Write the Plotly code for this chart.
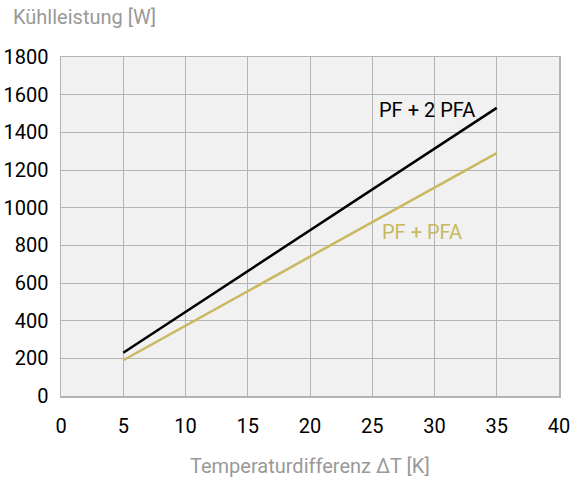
import plotly.graph_objects as go

x_vals = [5, 35]
pf_2pfa = [230, 1530]
pf_pfa = [190, 1290]
x_ticks = [0, 5, 10, 15, 20, 25, 30, 35, 40]
y_ticks = [0, 200, 400, 600, 800, 1000, 1200, 1400, 1600, 1800]

FONT = "Roboto"
GRID = "#b4b4b4"

W, H = 573, 482
ML, MR, MT = 61, 14, 57
MB = H - MT - 339.5

fig = go.Figure()
fig.add_trace(go.Scatter(x=x_vals, y=pf_2pfa, mode="lines",
                         line=dict(color="#000000", width=2.5), name="PF + 2 PFA"))
fig.add_trace(go.Scatter(x=x_vals, y=pf_pfa, mode="lines",
                         line=dict(color="#c9b85e", width=2.5), name="PF + PFA"))

fig.add_annotation(x=29.36, y=1519, text="PF + 2 PFA", showarrow=False,
                   font=dict(family=FONT, size=20, color="#000000"))
fig.add_annotation(x=29, y=870, text="PF + PFA", showarrow=False,
                   font=dict(family=FONT, size=20, color="#c9b85e"))

fig.add_annotation(x=0, y=1, xref="paper", yref="paper", xshift=-50, yshift=57 - 17,
                   xanchor="left", yanchor="middle",
                   text="Kühlleistung [W]", showarrow=False,
                   font=dict(family=FONT, size=20, color="#999999"))
fig.add_annotation(x=0.5, y=0, xref="paper", yref="paper", yshift=-(466 - 396.5),
                   xanchor="center", yanchor="middle",
                   text="Temperaturdifferenz ΔT [K]", showarrow=False,
                   font=dict(family=FONT, size=20, color="#999999"))

fig.update_layout(
    width=W, height=H,
    margin=dict(l=ML, r=MR, t=MT, b=MB, autoexpand=False),
    paper_bgcolor="white", plot_bgcolor="#f1f1f1",
    showlegend=False,
    font=dict(family=FONT, size=20, color="#000000"),
)
fig.update_xaxes(range=[0, 40], tickvals=x_ticks, showgrid=True, gridcolor=GRID,
                 gridwidth=1, zeroline=False, showline=True, linecolor=GRID,
                 linewidth=1.5, mirror=True, ticks="outside", ticklen=11,
                 tickcolor="rgba(0,0,0,0)", fixedrange=True, automargin=False)
fig.update_yaxes(range=[0, 1800], tickvals=y_ticks, showgrid=True, gridcolor=GRID,
                 gridwidth=1, zeroline=False, showline=True, linecolor=GRID,
                 linewidth=1.5, mirror=True, ticks="outside", ticklen=7,
                 tickcolor="rgba(0,0,0,0)", fixedrange=True, automargin=False)

fig.write_html("out.html", config={"displayModeBar": False, "staticPlot": True},
               post_script="document.body.style.margin='0';document.body.style.overflow='hidden';")
